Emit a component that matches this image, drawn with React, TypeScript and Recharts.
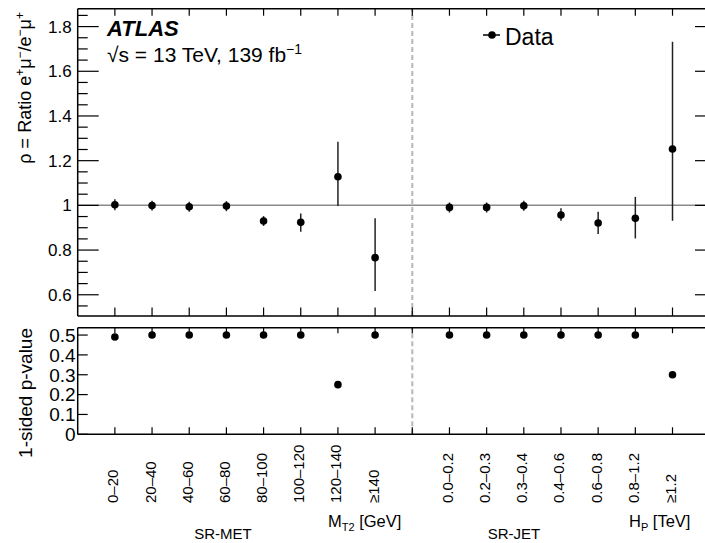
import React from 'react';
import { ScatterChart, Scatter, XAxis, YAxis, ErrorBar, ReferenceLine } from 'recharts';

const FONT = '"Liberation Sans", Arial, Helvetica, sans-serif';

// bins: SR-MET at x = 0..7, gap (dashed line) at 8, SR-JET at x = 9..15
const metLabels = ['0–20', '20–40', '40–60', '60–80', '80–100', '100–120', '120–140', '≥140'];
const jetLabels = ['0.0–0.2', '0.2–0.3', '0.3–0.4', '0.4–0.6', '0.6–0.8', '0.8–1.2', '≥1.2'];
const metPos = [0, 1, 2, 3, 4, 5, 6, 7];
const jetPos = [9, 10, 11, 12, 13, 14, 15];

// ratio rho with error band (high / low edges)
const metRatio = [1.003, 0.999, 0.994, 0.997, 0.930, 0.924, 1.128, 0.766];
const metHigh = [1.027, 1.021, 1.016, 1.019, 0.952, 0.964, 1.285, 0.942];
const metLow = [0.978, 0.977, 0.972, 0.974, 0.908, 0.882, 0.997, 0.617];
const jetRatio = [0.991, 0.991, 0.998, 0.957, 0.921, 0.942, 1.252];
const jetHigh = [1.013, 1.013, 1.021, 0.987, 0.971, 1.038, 1.732];
const jetLow = [0.968, 0.968, 0.976, 0.931, 0.872, 0.852, 0.931];

// 1-sided p-values
const metPValue = [0.49, 0.5, 0.5, 0.5, 0.5, 0.5, 0.25, 0.5];
const jetPValue = [0.5, 0.5, 0.5, 0.5, 0.5, 0.5, 0.3];

const binTicks = [0, 1, 2, 3, 4, 5, 6, 7, 8, 9, 10, 11, 12, 13, 14, 15];
const ratioMajor = [0.6, 0.8, 1, 1.2, 1.4, 1.6, 1.8];
const ratioMinor = [0.55, 0.65, 0.7, 0.75, 0.85, 0.9, 0.95, 1.05, 1.1, 1.15, 1.25, 1.3, 1.35,
  1.45, 1.5, 1.55, 1.65, 1.7, 1.75, 1.85];
const pTicks = [0, 0.1, 0.2, 0.3, 0.4, 0.5];

const X_DOMAIN = [-1, 16.17];
const RATIO_DOMAIN = [0.505, 1.88];
const P_DOMAIN = [0, 0.537];

const labelAt: { [k: number]: string } = {};
metPos.forEach((p, i) => { labelAt[p] = metLabels[i]; });
jetPos.forEach((p, i) => { labelAt[p] = jetLabels[i]; });

const ratioRows = [
  ...metPos.map((x, i) => ({ x, y: metRatio[i], err: [metRatio[i] - metLow[i], metHigh[i] - metRatio[i]] })),
  ...jetPos.map((x, i) => ({ x, y: jetRatio[i], err: [jetRatio[i] - jetLow[i], jetHigh[i] - jetRatio[i]] })),
];
const pRows = [
  ...metPos.map((x, i) => ({ x, y: metPValue[i] })),
  ...jetPos.map((x, i) => ({ x, y: jetPValue[i] })),
];

const W = 720;
const isMajor = (v: number) => ratioMajor.some(m => Math.abs(m - v) < 1e-6);

const dot = (p: any) => <circle cx={p.cx} cy={p.cy} r={3.8} fill="#000" />;

// ROOT style: ticks point inwards
const ratioLeftTick = (p: any) => {
  const v = p.payload.value;
  const major = isMajor(v);
  return (
    <g>
      <line x1={p.x} x2={p.x + (major ? 21 : 10)} y1={p.y} y2={p.y} stroke="#000" strokeWidth={1.2} />
      {major && (
        <text x={p.x - 6} y={p.y} dy="0.36em" textAnchor="end" fontSize={17} fontFamily={FONT} fill="#000">
          {String(v)}
        </text>
      )}
    </g>
  );
};
const ratioRightTick = (p: any) => {
  const major = isMajor(p.payload.value);
  return <line x1={p.x} x2={p.x - (major ? 21 : 10)} y1={p.y} y2={p.y} stroke="#000" strokeWidth={1.2} />;
};
const pLeftTick = (p: any) => (
  <g>
    <line x1={p.x} x2={p.x + 10} y1={p.y} y2={p.y} stroke="#000" strokeWidth={1.2} />
    <text x={p.x - 2} y={p.y} dy="0.36em" textAnchor="end" fontSize={19} fontFamily={FONT} fill="#000">
      {String(p.payload.value)}
    </text>
  </g>
);
const pRightTick = (p: any) => <line x1={p.x} x2={p.x - 10} y1={p.y} y2={p.y} stroke="#000" strokeWidth={1.2} />;
const upTick = (len: number) => (p: any) =>
  <line x1={p.x} x2={p.x} y1={p.y} y2={p.y - len} stroke="#000" strokeWidth={1.2} />;
const downTick = (len: number) => (p: any) =>
  <line x1={p.x} x2={p.x} y1={p.y} y2={p.y + len} stroke="#000" strokeWidth={1.2} />;
const binLabelTick = (p: any) => {
  const label = labelAt[p.payload.value];
  return (
    <g>
      <line x1={p.x} x2={p.x} y1={p.y} y2={p.y - 7} stroke="#000" strokeWidth={1.2} />
      {label && (
        <text transform={`translate(${p.x + 3.5},${p.y + 68.7}) rotate(-90)`} fontSize={15}
          fontFamily={FONT} fill="#000">
          {label}
        </text>
      )}
    </g>
  );
};

const axisLine = { stroke: '#000', strokeWidth: 1.5 };

const App = () => {
  return (
    <div style={{ position: 'absolute', left: 0, top: 0, width: 705, height: 543, overflow: 'hidden', background: '#fff' }}>
      {/* ratio panel */}
      <div style={{ position: 'absolute', left: 0, top: 0 }}>
        <ScatterChart width={W} height={320} margin={{ top: 7.7, right: 3, bottom: 3, left: 76.7 }}>
          <XAxis xAxisId="b" type="number" dataKey="x" domain={X_DOMAIN} ticks={binTicks} interval={0}
            allowDataOverflow height={1} tickSize={0} tickMargin={0} tickLine={false} axisLine={axisLine}
            tick={upTick(8.5)} />
          <XAxis xAxisId="t" orientation="top" type="number" dataKey="x" domain={X_DOMAIN} ticks={binTicks}
            interval={0} allowDataOverflow height={1} tickSize={0} tickMargin={0} tickLine={false}
            axisLine={axisLine} tick={downTick(7)} />
          <YAxis yAxisId="l" type="number" dataKey="y" domain={RATIO_DOMAIN} ticks={[...ratioMajor, ...ratioMinor]}
            interval={0} allowDataOverflow width={1} tickSize={0} tickMargin={0} tickLine={false}
            axisLine={axisLine} tick={ratioLeftTick} />
          <YAxis yAxisId="r" orientation="right" type="number" dataKey="y" domain={RATIO_DOMAIN}
            ticks={[...ratioMajor, ...ratioMinor]} interval={0} allowDataOverflow width={1} tickSize={0}
            tickMargin={0} tickLine={false} axisLine={axisLine} tick={ratioRightTick} />
          <ReferenceLine xAxisId="b" yAxisId="l" y={1} stroke="#8a8a8a" strokeWidth={1.5} />
          <ReferenceLine xAxisId="b" yAxisId="l" x={8} stroke="#b8b8b8" strokeWidth={2} strokeDasharray="5 3" />
          <Scatter data={ratioRows} xAxisId="b" yAxisId="l" dataKey="y" shape={dot} isAnimationActive={false}>
            <ErrorBar dataKey="err" direction="y" width={0} stroke="#222" strokeWidth={1.5} isAnimationActive={false} />
          </Scatter>
        </ScatterChart>
      </div>

      {/* p-value panel */}
      <div style={{ position: 'absolute', left: 0, top: 320 }}>
        <ScatterChart width={W} height={223} margin={{ top: 6.7, right: 3, bottom: 107.7, left: 76.7 }}>
          <XAxis xAxisId="b" type="number" dataKey="x" domain={X_DOMAIN} ticks={binTicks} interval={0}
            allowDataOverflow height={1} tickSize={0} tickMargin={0} tickLine={false} axisLine={axisLine}
            tick={binLabelTick} />
          <XAxis xAxisId="t" orientation="top" type="number" dataKey="x" domain={X_DOMAIN} ticks={binTicks}
            interval={0} allowDataOverflow height={1} tickSize={0} tickMargin={0} tickLine={false}
            axisLine={axisLine} tick={downTick(5.5)} />
          <YAxis yAxisId="l" type="number" dataKey="y" domain={P_DOMAIN} ticks={pTicks} interval={0}
            allowDataOverflow width={1} tickSize={0} tickMargin={0} tickLine={false} axisLine={axisLine}
            tick={pLeftTick} />
          <YAxis yAxisId="r" orientation="right" type="number" dataKey="y" domain={P_DOMAIN} ticks={pTicks}
            interval={0} allowDataOverflow width={1} tickSize={0} tickMargin={0} tickLine={false}
            axisLine={axisLine} tick={pRightTick} />
          <ReferenceLine xAxisId="b" yAxisId="l" x={8} stroke="#b8b8b8" strokeWidth={2} strokeDasharray="5 3" />
          <Scatter data={pRows} xAxisId="b" yAxisId="l" dataKey="y" shape={dot} isAnimationActive={false} />
        </ScatterChart>
      </div>

      {/* titles, labels and legend */}
      <svg width={705} height={543} style={{ position: 'absolute', left: 0, top: 0, pointerEvents: 'none' }}
        fontFamily={FONT} fill="#000">
        <text x={107} y={36} fontSize={22} fontWeight="bold" fontStyle="italic">ATLAS</text>
        <text x={107} y={62} fontSize={21}>
          √s = 13 TeV, 139 fb<tspan dy={-8} fontSize={14}>−1</tspan>
        </text>

        <line x1={483} x2={500} y1={35} y2={35} stroke="#000" strokeWidth={1.5} />
        <circle cx={492} cy={35} r={3.8} fill="#000" />
        <text x={505} y={45} fontSize={23}>Data</text>

        <text transform="translate(31,12) rotate(-90)" textAnchor="end" fontSize={18}>
          ρ = Ratio e<tspan dy={-7} fontSize={12}>+</tspan><tspan dy={7}>μ</tspan>
          <tspan dy={-7} fontSize={12}>−</tspan><tspan dy={7}>/e</tspan>
          <tspan dy={-7} fontSize={12}>−</tspan><tspan dy={7}>μ</tspan>
          <tspan dy={-7} fontSize={12}>+</tspan>
        </text>
        <text transform="translate(32,328) rotate(-90)" textAnchor="end" fontSize={19}>1-sided p-value</text>

        <text x={223} y={539} textAnchor="middle" fontSize={15}>SR-MET</text>
        <text x={328} y={527} fontSize={16.5}>
          M<tspan dy={4} fontSize={11}>T2</tspan><tspan dy={-4}> [GeV]</tspan>
        </text>
        <text x={514} y={539} textAnchor="middle" fontSize={15}>SR-JET</text>
        <text x={629} y={527} fontSize={16.5}>
          H<tspan dy={4} fontSize={11}>P</tspan><tspan dy={-4}> [TeV]</tspan>
        </text>
      </svg>
    </div>
  );
};

export default App;
